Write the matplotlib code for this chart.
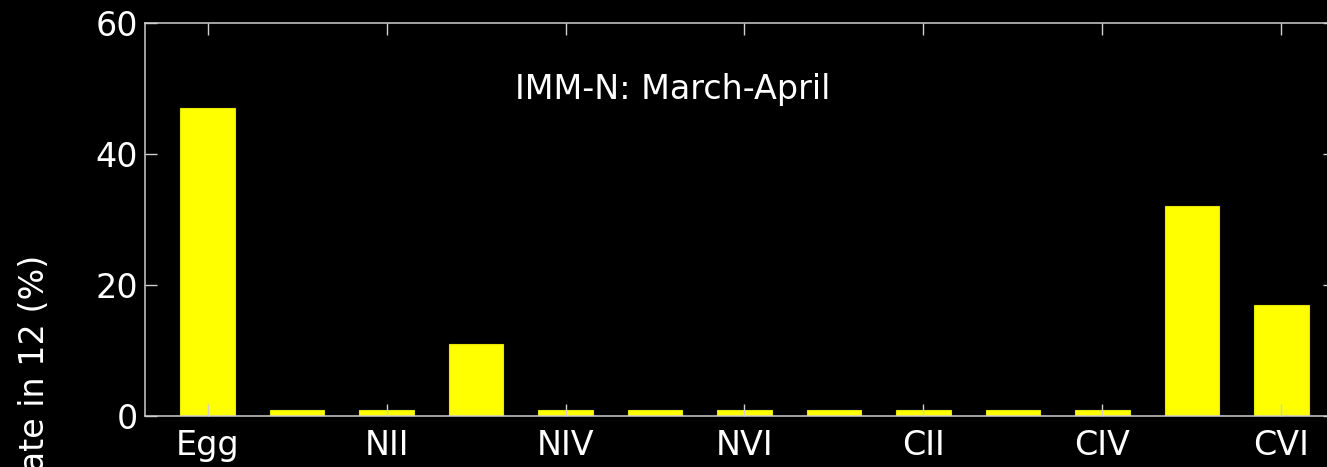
import matplotlib.pyplot as plt
import numpy as np

plt.rcParams['font.family'] = ['DejaVu Sans']

stages = ['Egg', 'NI', 'NII', 'NIII', 'NIV', 'NV', 'NVI',
          'CI', 'CII', 'CIII', 'CIV', 'CV', 'CVI']
percent = [47, 1, 1, 11, 1, 1, 1, 1, 1, 1, 1, 32, 17]
tick_labels = ['Egg', 'NII', 'NIV', 'NVI', 'CII', 'CIV', 'CVI']

fig = plt.figure(figsize=(13.27, 4.67), dpi=100, facecolor='black')
ax = fig.add_axes([0.1093, 0.109, 0.8967, 0.8417], facecolor='black')

x = np.arange(1, len(stages) + 1)
ax.bar(x, percent, width=0.61, color='#ffff00', edgecolor='#e6e600', linewidth=0.8)

axis_col = '#cfcfcf'
for s in ax.spines.values():
    s.set_color(axis_col)
    s.set_linewidth(1.1)

ax.set_xlim(0.3, 13.6)
ax.set_ylim(0, 60)
ax.set_xticks(x[::2])
ax.set_xticklabels(tick_labels)
ax.set_yticks([0, 20, 40, 60])
ax.tick_params(direction='in', length=8.5, width=1.0, color=axis_col,
               labelcolor='white', labelsize=24, top=True, right=True)
ax.tick_params(axis='x', pad=9)
ax.tick_params(axis='y', pad=5)

ax.text(4.43, 49.8, 'IMM-N: March-April', color='white', fontsize=24,
        ha='left', va='center')

fig.text(35 / 1327, 1 - 255 / 467, 'Stage estimate in 12 (%)', color='white',
         fontsize=24, rotation=90, ha='center', va='top')

fig.savefig('out.png', dpi=100, facecolor='black')
